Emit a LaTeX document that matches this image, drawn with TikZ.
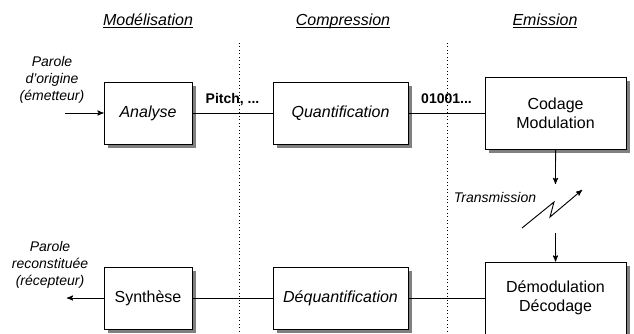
\documentclass[tikz,border=0pt]{standalone}
\usepackage{fontspec}
\setmainfont{Liberation Sans}
\usetikzlibrary{arrows,positioning,shadows}
\tikzstyle{bloc} = [rectangle, draw=black, fill=white,
minimum width=66pt, minimum height=46.5pt,
font=\fontsize{12}{14.4}\selectfont, align=center,
drop shadow={shadow xshift=2.8pt, shadow yshift=-2.8pt, fill=black!50, opacity=1}]
\tikzstyle{lbl} = [font=\fontsize{10.5}{12.6}\selectfont\itshape, align=center]
\tikzstyle{val} = [font=\fontsize{10.5}{12.6}\selectfont\bfseries, anchor=base, yshift=7.5pt]
\tikzstyle{titre} = [font=\fontsize{12}{14.4}\selectfont\itshape, anchor=base]
\tikzstyle{sep} = [dotted, line width=0.6pt]
\newcommand\souligne[1]{\underline{\smash{#1}}}

\begin{document}
\begin{tikzpicture}[>=stealth', node distance=144.4pt, x=0.75pt, y=-0.75pt, line width=0.7pt]
      \useasboundingbox (0,0) rectangle (634,333);

      \node[titre] (h1) at (148,25)   {\souligne{Modélisation}};
      \node[titre] (h2) at (343,25)   {\souligne{Compression}};
      \node[titre] (h3) at (545,25)   {\souligne{Emission}};

      \draw[sep] (239,43) -- (239,333);
      \draw[sep] (447,43) -- (447,333);

      \node[bloc]                                              (ana)    at (148,113) {\itshape Analyse};
      \node[bloc, minimum width=101.25pt, right of=ana]        (quant)  {\itshape Quantification};
      \node[bloc, minimum width=105.75pt, minimum height=54pt,
            right of=quant, node distance=161.25pt]            (codage) {Codage\\Modulation};
      \node[bloc, below of=ana, node distance=138.75pt]        (synth)  {Synthèse};
      \node[bloc, minimum width=101.25pt,
            below of=quant, node distance=138.75pt]            (dequant) {\itshape Déquantification};
      \node[bloc, minimum width=105.75pt, minimum height=54pt,
            below of=codage, node distance=138.75pt]           (demod)  {Démodulation\\Décodage};

      \node[lbl] (src) at (52,80)  {Parole\\d'origine\\(émetteur)};
      \node[lbl] (dst) at (50,265) {Parole\\reconstituée\\(récepteur)};
      \node[lbl] (tr)  at (495,197) {Transmission};

      \coordinate (in)  at (65,113);
      \coordinate (out) at (67,298);
      \coordinate (ta)  at (555.5,184);
      \coordinate (tb)  at (555.5,233);

      \draw [->] (in) -- (ana.west);
      \draw (ana) -- node[val]{Pitch, ...} (quant);
      \draw (quant) -- node[val]{01001...} (codage);
      \draw [->] (codage.south) -- (ta);
      \draw [->] (522,228) -- (554,202) -- (550,217) -- (582,190);
      \draw [->] (tb) -- (demod.north);
      \draw (demod) -- (dequant);
      \draw (dequant) -- (synth);
      \draw [->] (synth.west) -- (out);
    \end{tikzpicture}
\end{document}
